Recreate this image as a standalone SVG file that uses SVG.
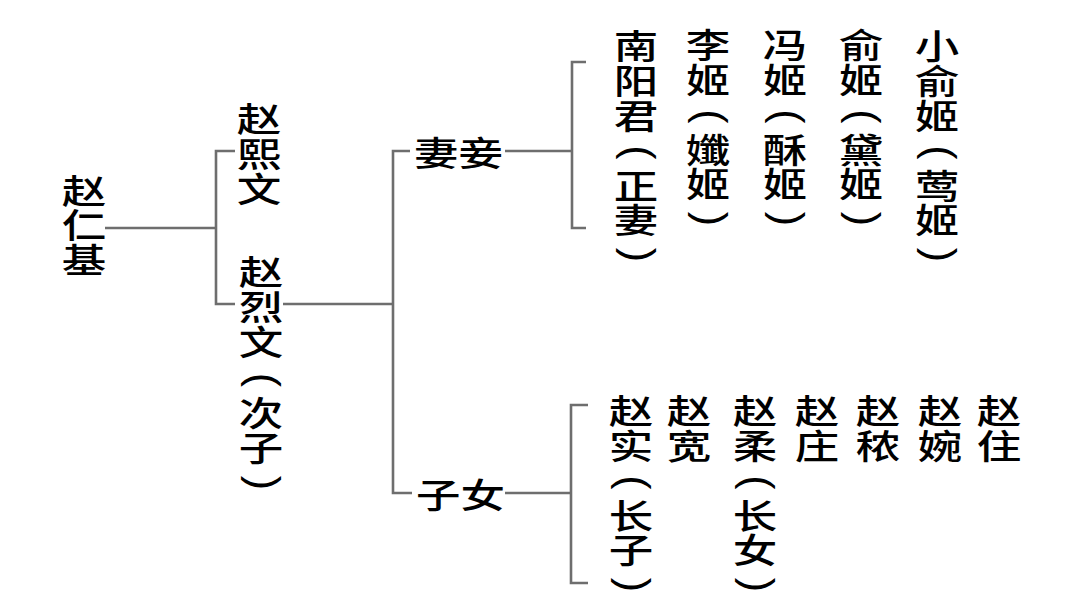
<svg xmlns="http://www.w3.org/2000/svg" width="1080" height="601" viewBox="0 0 1080 601">
<style>
.t{font-family:"Noto Sans CJK SC","Noto Sans CJK TC",sans-serif;font-size:34.5px;font-weight:500;fill:#000;text-anchor:middle}
.h{text-anchor:start}
.p{font-family:"Liberation Sans",Arial,sans-serif;font-size:43px;fill:#000;text-anchor:middle}
.c{stroke:#6e6e6e;stroke-width:2.6;fill:none}
</style>
<rect width="1080" height="601" fill="#fff"/>
<g id="connectors">
<path class="c" d="M105,228H216"/>
<path class="c" d="M235,151H216V304H235"/>
<path class="c" d="M283,304H393"/>
<path class="c" d="M410,151H393V493H412"/>
<path class="c" d="M505,151H572"/>
<path class="c" d="M586,62H572V228H586"/>
<path class="c" d="M505,493H571"/>
<path class="c" d="M588,405H571V583H588"/>
</g>
<g id="n-renji"><text class="t" transform="translate(84,0) scale(1.29,1)"><tspan x="0" y="204">赵</tspan><tspan x="0" y="238.5">仁</tspan><tspan x="0" y="273">基</tspan></text></g>
<g id="n-xiwen"><text class="t" transform="translate(259,0) scale(1.29,1)"><tspan x="0" y="132">赵</tspan><tspan x="0" y="167">熙</tspan><tspan x="0" y="202">文</tspan></text></g>
<g id="n-liewen"><text class="t" transform="translate(261,0) scale(1.29,1)"><tspan x="0" y="285">赵</tspan><tspan x="0" y="320.2">烈</tspan><tspan x="0" y="355.3">文</tspan><tspan x="0" y="425.7">次</tspan><tspan x="0" y="460.8">子</tspan></text>
<text class="p" transform="translate(261,380) rotate(90)" x="0" y="11.2">(</text><text class="p" transform="translate(261,483) rotate(90)" x="0" y="11.2">)</text></g>
<g id="n-qiqie"><text class="t h" transform="translate(414,0) scale(1.29,1)" x="0" y="166.5">妻妾</text></g>
<g id="n-zinv"><text class="t h" transform="translate(416,0) scale(1.29,1)" x="0" y="508.5">子女</text></g>
<g id="n-nanyang"><text class="t" transform="translate(636,0) scale(1.29,1)"><tspan x="0" y="59.3">南</tspan><tspan x="0" y="94.1">阳</tspan><tspan x="0" y="129">君</tspan><tspan x="0" y="198.6">正</tspan><tspan x="0" y="233.5">妻</tspan></text>
<text class="p" transform="translate(636,152.5) rotate(90)" x="0" y="11.2">(</text><text class="p" transform="translate(636,255) rotate(90)" x="0" y="11.2">)</text></g>
<g id="n-li"><text class="t" transform="translate(708,0) scale(1.29,1)"><tspan x="0" y="58.3">李</tspan><tspan x="0" y="93.1">姬</tspan><tspan x="0" y="162.7">孅</tspan><tspan x="0" y="197.5">姬</tspan></text>
<text class="p" transform="translate(708,116.5) rotate(90)" x="0" y="11.2">(</text><text class="p" transform="translate(708,219) rotate(90)" x="0" y="11.2">)</text></g>
<g id="n-feng"><text class="t" transform="translate(785,0) scale(1.29,1)"><tspan x="0" y="58.3">冯</tspan><tspan x="0" y="93.1">姬</tspan><tspan x="0" y="162.7">酥</tspan><tspan x="0" y="197.5">姬</tspan></text>
<text class="p" transform="translate(785,116.5) rotate(90)" x="0" y="11.2">(</text><text class="p" transform="translate(785,219) rotate(90)" x="0" y="11.2">)</text></g>
<g id="n-yu"><text class="t" transform="translate(861,0) scale(1.29,1)"><tspan x="0" y="58.3">俞</tspan><tspan x="0" y="93.1">姬</tspan><tspan x="0" y="162.7">黛</tspan><tspan x="0" y="197.5">姬</tspan></text>
<text class="p" transform="translate(861,116.5) rotate(90)" x="0" y="11.2">(</text><text class="p" transform="translate(861,219) rotate(90)" x="0" y="11.2">)</text></g>
<g id="n-xiaoyu"><text class="t" transform="translate(937,0) scale(1.29,1)"><tspan x="0" y="59.3">小</tspan><tspan x="0" y="94.1">俞</tspan><tspan x="0" y="129">姬</tspan><tspan x="0" y="198.6">莺</tspan><tspan x="0" y="233.5">姬</tspan></text>
<text class="p" transform="translate(937,152.5) rotate(90)" x="0" y="11.2">(</text><text class="p" transform="translate(937,255) rotate(90)" x="0" y="11.2">)</text></g>
<g id="n-shi"><text class="t" transform="translate(631,0) scale(1.29,1)"><tspan x="0" y="424.3">赵</tspan><tspan x="0" y="459.1">实</tspan><tspan x="0" y="528.7">长</tspan><tspan x="0" y="563.5">子</tspan></text>
<text class="p" transform="translate(631,482.5) rotate(90)" x="0" y="11.2">(</text><text class="p" transform="translate(631,585) rotate(90)" x="0" y="11.2">)</text></g>
<g id="n-kuan"><text class="t" transform="translate(689,0) scale(1.29,1)"><tspan x="0" y="424.3">赵</tspan><tspan x="0" y="459.1">宽</tspan></text></g>
<g id="n-rou"><text class="t" transform="translate(755,0) scale(1.29,1)"><tspan x="0" y="424.3">赵</tspan><tspan x="0" y="459.1">柔</tspan><tspan x="0" y="528.7">长</tspan><tspan x="0" y="563.5">女</tspan></text>
<text class="p" transform="translate(755,482.5) rotate(90)" x="0" y="11.2">(</text><text class="p" transform="translate(755,585) rotate(90)" x="0" y="11.2">)</text></g>
<g id="n-zhuang"><text class="t" transform="translate(817,0) scale(1.29,1)"><tspan x="0" y="424.3">赵</tspan><tspan x="0" y="459.1">庄</tspan></text></g>
<g id="n-nong"><text class="t" transform="translate(878,0) scale(1.29,1)"><tspan x="0" y="424.3">赵</tspan><tspan x="0" y="459.1">秾</tspan></text></g>
<g id="n-wan"><text class="t" transform="translate(940,0) scale(1.29,1)"><tspan x="0" y="424.3">赵</tspan><tspan x="0" y="459.1">婉</tspan></text></g>
<g id="n-zhu"><text class="t" transform="translate(999,0) scale(1.29,1)"><tspan x="0" y="424.3">赵</tspan><tspan x="0" y="459.1">住</tspan></text></g>
</svg>
